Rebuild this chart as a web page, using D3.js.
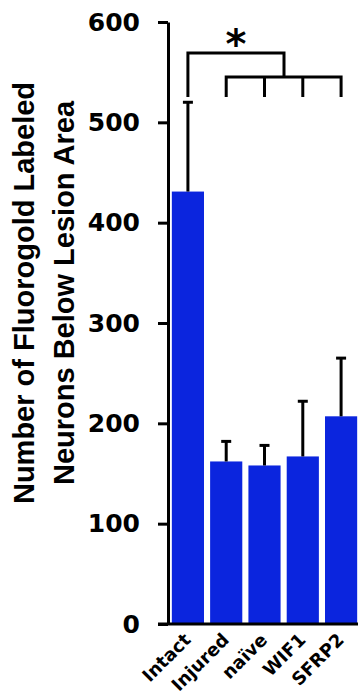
<!DOCTYPE html>
<html>
<head>
<meta charset="utf-8">
<script src="https://cdn.jsdelivr.net/npm/d3@7"></script>
<style>
  html, body { margin: 0; padding: 0; background: #fff; }
  svg { display: block; }
</style>
</head>
<body>
<svg id="chart" width="358" height="700"></svg>
<script>
// Groups, mean counts and upper error (SEM) for each group
const groups = ["Intact", "Injured", "naïve", "WIF1", "SFRP2"];
const means = [431, 162, 158, 167, 207];
const errors = [89, 20, 20, 55, 58];
const yTicks = [0, 100, 200, 300, 400, 500, 600];
const titleLines = ["Number of Fluorogold Labeled", "Neurons Below Lesion Area"];

const svg = d3.select("#chart");
const barColor = "#0b25de";
const axisX = 168;

const y = d3.scaleLinear().domain([0, 600]).range([624, 22]);
const x = d3.scaleBand().domain(groups).range([axisX, 361])
  .paddingInner(0.16).paddingOuter(0.1);

// Bars
svg.append("g").selectAll("rect").data(groups).join("rect")
  .attr("x", d => x(d))
  .attr("y", (d, i) => y(means[i]))
  .attr("width", x.bandwidth())
  .attr("height", (d, i) => y(0) - y(means[i]))
  .attr("fill", barColor);

// Upper error bars
const eb = svg.append("g").attr("stroke", "#000").attr("stroke-width", 3);
groups.forEach((g, i) => {
  const cx = x(g) + x.bandwidth() / 2;
  eb.append("line").attr("x1", cx).attr("x2", cx)
    .attr("y1", y(means[i])).attr("y2", y(means[i] + errors[i]));
  eb.append("line").attr("x1", cx - 5).attr("x2", cx + 5)
    .attr("y1", y(means[i] + errors[i])).attr("y2", y(means[i] + errors[i]));
});

// Y axis
const yAxis = svg.append("g").attr("transform", `translate(${axisX},0)`)
  .call(d3.axisLeft(y).tickValues(yTicks).tickSize(10).tickPadding(18).tickSizeOuter(0));
yAxis.select(".domain").attr("stroke-width", 3);
yAxis.selectAll(".tick line").attr("stroke-width", 3);
yAxis.selectAll(".tick text")
  .attr("font-family", "DejaVu Sans")
  .attr("font-weight", "bold")
  .attr("font-size", 25)
  .attr("fill", "#000");

// X axis baseline
const xAxis = svg.append("g").attr("transform", `translate(0,${y(0)})`)
  .call(d3.axisBottom(x).tickSize(0).tickPadding(0));
xAxis.select(".domain").attr("d", `M${axisX - 10},0H358`).attr("stroke-width", 3);
xAxis.selectAll(".tick text")
  .attr("font-family", "DejaVu Sans")
  .attr("font-weight", "bold")
  .attr("font-size", 18)
  .attr("fill", "#000")
  .attr("text-anchor", "end")
  .attr("dy", 0)
  .attr("transform", "translate(4,17) rotate(-45)");

// Y axis title
const title = svg.append("text")
  .attr("transform", `translate(0,293) rotate(-90)`)
  .attr("text-anchor", "middle")
  .attr("font-family", "Liberation Sans")
  .attr("font-weight", "bold")
  .attr("font-size", 29)
  .attr("fill", "#000");
titleLines.forEach((t, i) => {
  title.append("tspan").attr("x", 0).attr("y", 34 + i * 40).text(t);
});

// Significance brackets
const cxOf = g => x(g) + x.bandwidth() / 2;
const br = svg.append("g").attr("fill", "none").attr("stroke", "#000").attr("stroke-width", 3);
const rest = groups.slice(1);
const lowY = 77, topY = 53, legY = 97;
br.append("path").attr("d",
  `M${cxOf(rest[0])},${legY}V${lowY}H${cxOf(rest[rest.length - 1])}V${legY}`);
rest.slice(1, -1).forEach(g => {
  br.append("line").attr("x1", cxOf(g)).attr("x2", cxOf(g)).attr("y1", lowY).attr("y2", legY);
});
const midRest = 284;
br.append("path").attr("d", `M${cxOf(groups[0])},${legY}V${topY}H${midRest}V${lowY}`);
svg.append("text").attr("x", 236).attr("y", 58)
  .attr("text-anchor", "middle")
  .attr("font-family", "DejaVu Sans")
  .attr("font-weight", "bold")
  .attr("font-size", 40)
  .text("*");
</script>
</body>
</html>
